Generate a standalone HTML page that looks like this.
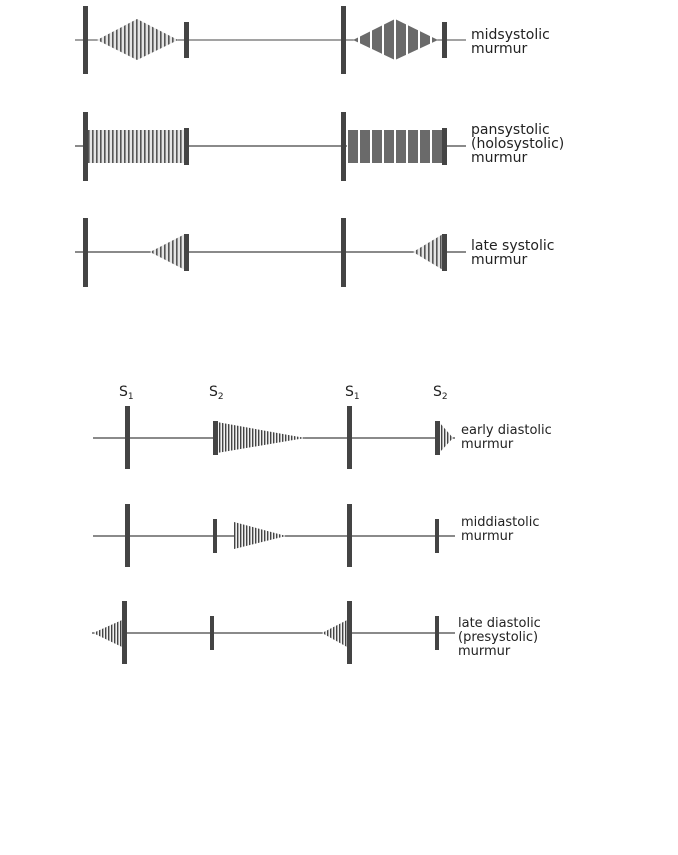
<!DOCTYPE html>
<html><head><meta charset="utf-8"><style>
html,body{margin:0;padding:0;background:#fff;}
svg{display:block;}
text{font-family:"DejaVu Sans","Liberation Sans",sans-serif;fill:#222;}
</style></head><body>
<svg width="678" height="855" viewBox="0 0 678 855" xmlns="http://www.w3.org/2000/svg">
<defs>
<pattern id="lt" width="4" height="10" patternUnits="userSpaceOnUse"><rect width="4" height="10" fill="#e4e4e4"/><rect x="0" width="1.6" height="10" fill="#555"/></pattern>
<pattern id="dk" width="12" height="10" patternUnits="userSpaceOnUse"><rect width="12" height="10" fill="#6a6a6a"/><rect x="10" width="2" height="10" fill="#fff"/></pattern>
<pattern id="st" width="3" height="10" patternUnits="userSpaceOnUse"><rect width="3" height="10" fill="#f2f2f2"/><rect x="0" width="1.4" height="10" fill="#444"/></pattern>
</defs>
<g stroke="#444" stroke-width="1.2">
<line x1="75" y1="40" x2="466" y2="40" stroke-width="0.9"/>
<line x1="75" y1="146" x2="466" y2="146"/>
<line x1="75" y1="252" x2="466" y2="252"/>
<line x1="93" y1="438" x2="455" y2="438"/>
<line x1="93" y1="536" x2="455" y2="536"/>
<line x1="92" y1="633" x2="455" y2="633"/>
</g>
<!-- row1 -->
<polygon points="97,40 137,19 178,40 137,60" fill="url(#lt)"/>
<polygon points="353,40 395,19 438,40 395,60" fill="url(#dk)"/>
<!-- row2 -->
<rect x="88" y="130" width="96" height="33" fill="url(#lt)"/>
<rect x="347" y="130" width="95" height="33" fill="url(#dk)"/>
<!-- row3 -->
<polygon points="150,252 185,234 185,270" fill="url(#lt)"/>
<polygon points="413,252 443,234 443,270" fill="url(#lt)"/>
<!-- diastolic -->
<polygon points="217,422 217,453 305,438" fill="url(#st)"/>
<polygon points="439,422 439,453 453,438" fill="url(#st)"/>
<polygon points="234,522 234,549 286,536" fill="url(#st)"/>
<polygon points="93,633 122,620 122,647" fill="url(#st)"/>
<polygon points="322,633 347,620 347,647" fill="url(#st)"/>
<g fill="#444">
<rect x="83" y="6" width="5" height="68"/><rect x="184" y="22" width="5" height="36"/>
<rect x="341" y="6" width="5" height="68"/><rect x="442" y="22" width="5" height="36"/>
<rect x="83" y="112" width="5" height="69"/><rect x="184" y="128" width="5" height="37"/>
<rect x="341" y="112" width="5" height="69"/><rect x="442" y="128" width="5" height="37"/>
<rect x="83" y="218" width="5" height="69"/><rect x="184" y="234" width="5" height="37"/>
<rect x="341" y="218" width="5" height="69"/><rect x="442" y="234" width="5" height="37"/>
<rect x="125" y="406" width="5" height="63"/><rect x="213" y="421" width="5" height="34"/>
<rect x="347" y="406" width="5" height="63"/><rect x="435" y="421" width="5" height="34"/>
<rect x="125" y="504" width="5" height="63"/><rect x="213" y="519" width="4" height="34"/>
<rect x="347" y="504" width="5" height="63"/><rect x="435" y="519" width="4" height="34"/>
<rect x="122" y="601" width="5" height="63"/><rect x="210" y="616" width="4" height="34"/>
<rect x="347" y="601" width="5" height="63"/><rect x="435" y="616" width="4" height="34"/>
</g>
<g font-size="14">
<text x="471" y="39">midsystolic</text><text x="471" y="53">murmur</text>
<text x="471" y="134">pansystolic</text><text x="471" y="148">(holosystolic)</text><text x="471" y="162">murmur</text>
<text x="471" y="250">late systolic</text><text x="471" y="264">murmur</text>
</g>
<g font-size="13">
<text x="461" y="434">early diastolic</text><text x="461" y="448">murmur</text>
<text x="461" y="526">middiastolic</text><text x="461" y="540">murmur</text>
<text x="458" y="627">late diastolic</text><text x="458" y="641">(presystolic)</text><text x="458" y="655">murmur</text>
</g>
<g font-size="14">
<text x="119" y="396">S<tspan font-size="9" dy="3">1</tspan></text>
<text x="209" y="396">S<tspan font-size="9" dy="3">2</tspan></text>
<text x="345" y="396">S<tspan font-size="9" dy="3">1</tspan></text>
<text x="433" y="396">S<tspan font-size="9" dy="3">2</tspan></text>
</g>
</svg>
</body></html>
